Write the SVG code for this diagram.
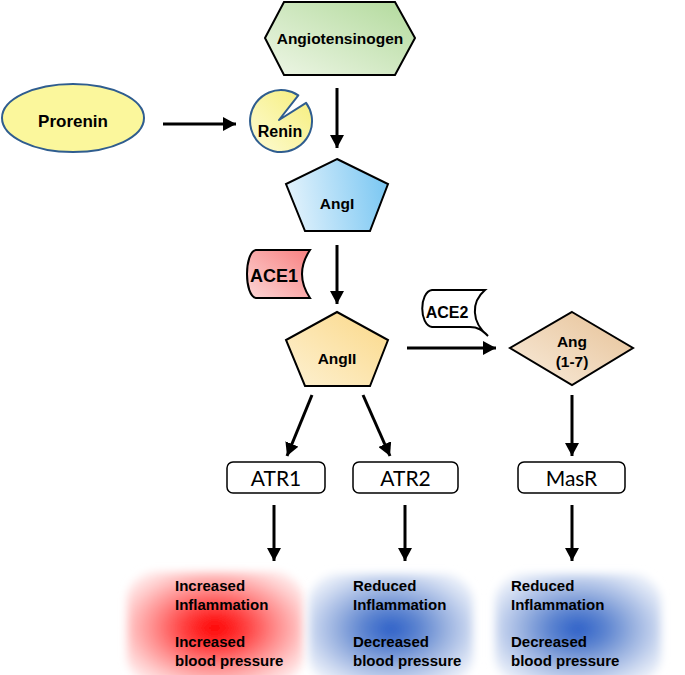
<svg xmlns="http://www.w3.org/2000/svg" width="685" height="675" viewBox="0 0 685 675">
<defs>
<style>
.lbl{font-family:"Liberation Sans",Arial,sans-serif;font-weight:bold;fill:#000;text-anchor:middle}
.out{font-family:"Liberation Sans",Arial,sans-serif;font-weight:bold;font-size:15px;fill:#000}
.rec{font-family:Lato,"Open Sans",sans-serif;font-size:21px;fill:#000;text-anchor:middle}
.shape{stroke:#000;stroke-width:2}
.box{fill:#fff;stroke:#000;stroke-width:1.5}
.arr{stroke:#000;stroke-width:3;fill:none;marker-end:url(#ah)}
</style>
<marker id="ah" markerUnits="userSpaceOnUse" markerWidth="14" markerHeight="14" refX="13" refY="7" orient="auto">
<path d="M0,0 L13,7 L0,14 Z" fill="#000"/>
</marker>
<linearGradient id="gGreen" x1="0" y1="1" x2="1" y2="0"><stop offset="0" stop-color="#eef6e6"/><stop offset="1" stop-color="#b2da9c"/></linearGradient>
<linearGradient id="gBlue" x1="0" y1="0.3" x2="1" y2="0.2"><stop offset="0" stop-color="#e2f2fc"/><stop offset="1" stop-color="#78c6f2"/></linearGradient>
<linearGradient id="gOrange" x1="0" y1="1" x2="1" y2="0"><stop offset="0" stop-color="#fdf1d2"/><stop offset="1" stop-color="#fbd888"/></linearGradient>
<linearGradient id="gTan" x1="0" y1="1" x2="1" y2="0"><stop offset="0" stop-color="#f9ecdc"/><stop offset="1" stop-color="#e6c196"/></linearGradient>
<linearGradient id="gRed" x1="0" y1="1" x2="1" y2="0"><stop offset="0" stop-color="#fcd6d6"/><stop offset="1" stop-color="#f88080"/></linearGradient>
<linearGradient id="gYel" x1="0" y1="1" x2="1" y2="0"><stop offset="0" stop-color="#fdfbd6"/><stop offset="1" stop-color="#f6ee78"/></linearGradient>
<radialGradient id="rRed" cx="0.5" cy="0.5" r="0.68"><stop offset="0" stop-color="#ff0000"/><stop offset="0.25" stop-color="#ff3c3c"/><stop offset="0.5" stop-color="#ff8888"/><stop offset="0.75" stop-color="#ffcccc"/><stop offset="1" stop-color="#ffffff"/></radialGradient>
<radialGradient id="rBlue" cx="0.5" cy="0.5" r="0.68"><stop offset="0" stop-color="#2d60c8"/><stop offset="0.25" stop-color="#5c84d0"/><stop offset="0.5" stop-color="#9ab2e0"/><stop offset="0.75" stop-color="#d2ddf2"/><stop offset="1" stop-color="#ffffff"/></radialGradient>
<filter id="soft" x="-0.2" y="-0.2" width="1.4" height="1.4"><feGaussianBlur stdDeviation="4"/></filter>
</defs>

<g id="angiotensinogen">
<polygon class="shape" points="265,38 284,2 395,2 415,38 395,75 284,75" fill="url(#gGreen)"/>
<text class="lbl" x="340" y="44" font-size="15.5">Angiotensinogen</text>
</g>

<g id="prorenin">
<ellipse cx="73" cy="118" rx="71" ry="34" fill="#fbf79c" stroke="#2f5d8f" stroke-width="2"/>
<text class="lbl" x="73" y="127" font-size="17">Prorenin</text>
</g>

<g id="renin">
<path d="M298.3,95.3 A31,31 0 1 0 306.1,102.8 L279,120 Z" fill="url(#gYel)" stroke="#2f5d8f" stroke-width="2" stroke-linejoin="round"/>
<text class="lbl" x="280" y="137" font-size="16">Renin</text>
</g>

<g id="angI">
<polygon class="shape" points="337,159 388,184 370,231 305,231 286,184" fill="url(#gBlue)"/>
<text class="lbl" x="337" y="209" font-size="15.5">AngI</text>
</g>

<g id="ace1">
<path class="shape" d="M256,250 L310,250 Q294,274 310,298 L256,298 C244,296 244,252 256,250 Z" fill="url(#gRed)"/>
<text class="lbl" x="274" y="282" font-size="18">ACE1</text>
</g>

<g id="angII">
<polygon class="shape" points="337,312 388,340 370,386 305,386 286,340" fill="url(#gOrange)"/>
<text class="lbl" x="337" y="364" font-size="15.5">AngII</text>
</g>

<g id="ace2">
<path class="shape" d="M432,290 L485,290 C471,302 471,322 488,336 C482,330 478,327 470,327 L432,327 C419,325 419,292 432,290 Z" fill="#fff"/>
<text class="lbl" x="447" y="318" font-size="16">ACE2</text>
</g>

<g id="ang17">
<polygon class="shape" points="572,312 633,348 572,385 510,348" fill="url(#gTan)"/>
<text class="lbl" x="572" y="347" font-size="15.5">Ang</text>
<text class="lbl" x="572" y="367" font-size="15.5">(1-7)</text>
</g>

<g id="atr1">
<rect class="box" x="227" y="462" width="98" height="31" rx="6"/>
<text class="rec" x="276" y="486">ATR1</text>
</g>
<g id="atr2">
<rect class="box" x="353" y="462" width="105" height="31" rx="6"/>
<text class="rec" x="405.5" y="486">ATR2</text>
</g>
<g id="masr">
<rect class="box" x="518" y="462" width="107" height="31" rx="6"/>
<text class="rec" x="571.5" y="486">MasR</text>
</g>

<g id="outcome-atr1">
<rect x="127" y="572" width="176" height="112" rx="28" fill="url(#rRed)" filter="url(#soft)"/>
<text class="out" x="175" y="591">Increased</text>
<text class="out" x="175" y="610">Inflammation</text>
<text class="out" x="175" y="647">Increased</text>
<text class="out" x="175" y="666">blood pressure</text>
</g>
<g id="outcome-atr2">
<rect x="309" y="574" width="164" height="110" rx="28" fill="url(#rBlue)" filter="url(#soft)"/>
<text class="out" x="353" y="591">Reduced</text>
<text class="out" x="353" y="610">Inflammation</text>
<text class="out" x="353" y="647">Decreased</text>
<text class="out" x="353" y="666">blood pressure</text>
</g>
<g id="outcome-masr">
<rect x="495" y="574" width="166" height="110" rx="28" fill="url(#rBlue)" filter="url(#soft)"/>
<text class="out" x="511" y="591">Reduced</text>
<text class="out" x="511" y="610">Inflammation</text>
<text class="out" x="511" y="647">Decreased</text>
<text class="out" x="511" y="666">blood pressure</text>
</g>

<g id="connectors">
<line class="arr" x1="163" y1="124" x2="236" y2="124"/>
<line class="arr" x1="337" y1="88" x2="337" y2="148"/>
<line class="arr" x1="337" y1="245" x2="337" y2="304"/>
<line class="arr" x1="407" y1="348" x2="496" y2="348"/>
<line class="arr" x1="312" y1="395" x2="287" y2="456"/>
<line class="arr" x1="363" y1="395" x2="390" y2="456"/>
<line class="arr" x1="572" y1="395" x2="572" y2="456"/>
<line class="arr" x1="274" y1="505" x2="274" y2="561"/>
<line class="arr" x1="405" y1="505" x2="405" y2="561"/>
<line class="arr" x1="572" y1="505" x2="572" y2="561"/>
</g>
</svg>
